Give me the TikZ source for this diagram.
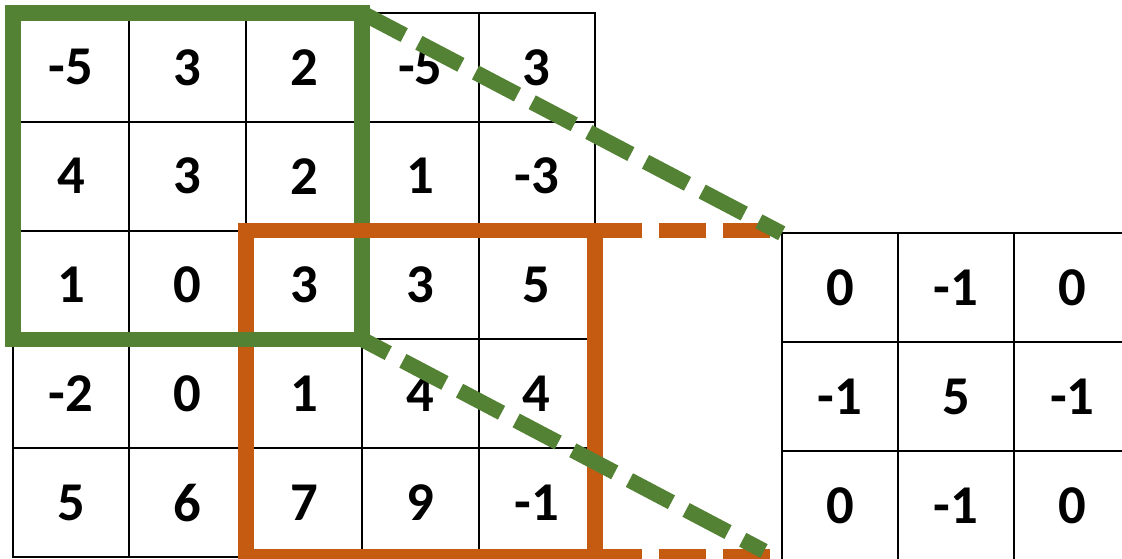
\documentclass[tikz,border=0pt]{standalone}
\usepackage{fontspec}
\setmainfont{Carlito}
\usetikzlibrary{calc}
\definecolor{kgreen}{RGB}{84,130,53}
\definecolor{korange}{RGB}{197,90,17}
\begin{document}
\begin{tikzpicture}[x=0.75pt,y=-0.75pt,
  cell/.style={draw=black,line width=1.5pt,minimum width=87.3pt,minimum height=81.6pt,inner sep=0pt,outer sep=0pt,font=\fontsize{41}{41}\selectfont\bfseries},
  rcell/.style={cell,minimum width=87.2pt,minimum height=81.75pt},
  gbox/.style={draw=kgreen,line width=11.6pt},
  obox/.style={draw=korange,line width=11.6pt},
  gdash/.style={draw=kgreen,line width=11.6pt,dash pattern=on 35.6pt off 12.4pt},
  odash/.style={draw=korange,line width=11.6pt,dash pattern=on 35.6pt off 12.4pt}]
\useasboundingbox (0,0) rectangle (1122,558);
\clip (0,0) rectangle (1122,558);
% input grid
\foreach \r [count=\i] in {{-5,3,2,-5,3},{4,3,2,1,-3},{1,0,3,3,5},{-2,0,1,4,4},{5,6,7,9,-1}} {
  \foreach \v [count=\j] in \r {
    \node[cell] (a\i\j) at ({13+116.4*(\j-0.5)},{13+108.8*(\i-0.5)}) {\v};
  }
}
% kernel grid
\foreach \r [count=\i] in {{0,-1,0},{-1,5,-1},{0,-1,0}} {
  \foreach \v [count=\j] in \r {
    \node[rcell] (b\i\j) at ({781.7+116.3*(\j-0.5)},{233.3+109*(\i-0.5)}) {\v};
  }
}
% boxes
\draw[obox] (a33.north west) rectangle (a55.south east);
\draw[gbox] (a11.north west) rectangle (a33.south east);
\draw[obox] (a33.north west) -- (a35.north east);
% orange dashed
\coordinate (o1) at (770,230.6);
\coordinate (o2) at (770,557);
\draw[odash] (a35.north east) -- (o1);
\draw[odash] (a55.south east) -- (o2);
% green dashed
\draw[gdash] (a13.north east) -- (b11.north west);
\draw[gdash,dash phase=13.5pt,shorten >=15pt] (a33.south east) -- (b31.south west);
\end{tikzpicture}
\end{document}
